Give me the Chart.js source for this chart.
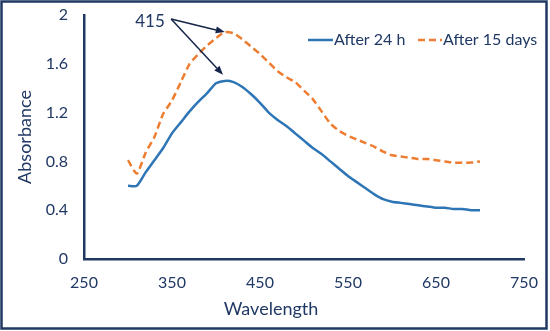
<!DOCTYPE html>
<html>
<head>
<meta charset="utf-8">
<script src="https://cdn.jsdelivr.net/npm/chart.js"></script>
<style>
  html, body { margin: 0; padding: 0; background: #fff; }
  #wrap { width: 550px; height: 331px; position: relative; }
</style>
</head>
<body>
<div id="wrap"><canvas id="absChart" width="550" height="331"></canvas></div>
<script>
const wavelengths = [300, 310, 320, 330, 340, 350, 360, 370, 380, 390,
  400, 410, 420, 430, 440, 450, 460, 470, 480, 490,
  500, 510, 520, 530, 540, 550, 560, 570, 580, 590,
  600, 610, 620, 630, 640, 650, 660, 670, 680, 690, 700];
const after24h = [0.60, 0.60, 0.71, 0.81, 0.91, 1.03, 1.12, 1.21, 1.29, 1.36,
  1.44, 1.46, 1.45, 1.41, 1.35, 1.28, 1.20, 1.14, 1.09, 1.03,
  0.97, 0.91, 0.86, 0.80, 0.74, 0.68, 0.63, 0.58, 0.53, 0.49,
  0.47, 0.46, 0.45, 0.44, 0.43, 0.42, 0.42, 0.41, 0.41, 0.40, 0.40];
const after15days = [0.81, 0.70, 0.87, 1.00, 1.19, 1.30, 1.45, 1.60, 1.68, 1.75,
  1.81, 1.86, 1.85, 1.80, 1.74, 1.68, 1.61, 1.54, 1.49, 1.45,
  1.38, 1.31, 1.21, 1.11, 1.05, 1.01, 0.98, 0.95, 0.92, 0.88,
  0.85, 0.84, 0.83, 0.82, 0.82, 0.81, 0.80, 0.79, 0.79, 0.79, 0.80];
const seriesLabels = ['After 24 h', 'After 15 days'];
const xTitle = 'Wavelength';

// peak annotation (data units)
const peakLabel = '415';
const peakText = [325, 1.95];
const arrowFrom = [349, 1.967];
const arrowTargets = [[410, 1.86], [408, 1.51]];

const NAVY = '#1f3864';
const BLUE = '#2e75b6';
const ORANGE = '#ed7d31';
const FONT = 'Lato, "Open Sans", sans-serif';

function toPoints(xs, ys) {
  return xs.map((x, i) => ({ x: x, y: ys[i] }));
}

const extras = {
  id: 'extras',
  afterDraw(chart) {
    const ctx = chart.ctx;
    const xs = chart.scales.x, ys = chart.scales.y;
    ctx.save();

    // frame
    ctx.strokeStyle = NAVY;
    ctx.lineWidth = 2.5;
    ctx.strokeRect(1.5, 1.5, 545, 327);

    // x axis title (sits left of the plot centre in the original)
    ctx.font = '18px ' + FONT;
    ctx.fillStyle = NAVY;
    ctx.textAlign = 'center';
    ctx.textBaseline = 'middle';
    ctx.fillText(xTitle, 271, 309);

    // legend
    ctx.font = '16px ' + FONT;
    ctx.lineWidth = 2.5;
    const ly = 40;
    ctx.strokeStyle = BLUE;
    ctx.beginPath(); ctx.moveTo(308, ly); ctx.lineTo(333, ly); ctx.stroke();
    ctx.textAlign = 'left';
    ctx.fillText(seriesLabels[0], 334, ly);
    ctx.strokeStyle = ORANGE;
    ctx.setLineDash([7, 4]);
    ctx.beginPath(); ctx.moveTo(418, ly); ctx.lineTo(442, ly); ctx.stroke();
    ctx.setLineDash([]);
    ctx.fillText(seriesLabels[1], 443, ly);

    // annotation
    ctx.font = '17px ' + FONT;
    ctx.textAlign = 'center';
    ctx.fillText(peakLabel, xs.getPixelForValue(peakText[0]), ys.getPixelForValue(peakText[1]));
    const fx = xs.getPixelForValue(arrowFrom[0]), fy = ys.getPixelForValue(arrowFrom[1]);
    ctx.strokeStyle = '#14244a';
    ctx.fillStyle = '#14244a';
    ctx.lineWidth = 1.5;
    arrowTargets.forEach(t => {
      const tx = xs.getPixelForValue(t[0]), ty = ys.getPixelForValue(t[1]);
      const a = Math.atan2(ty - fy, tx - fx);
      const hl = 9, hw = 3.5;
      const bx = tx - hl * Math.cos(a), by = ty - hl * Math.sin(a);
      ctx.beginPath(); ctx.moveTo(fx, fy); ctx.lineTo(bx, by); ctx.stroke();
      ctx.beginPath();
      ctx.moveTo(tx, ty);
      ctx.lineTo(bx + hw * Math.sin(a), by - hw * Math.cos(a));
      ctx.lineTo(bx - hw * Math.sin(a), by + hw * Math.cos(a));
      ctx.closePath();
      ctx.fill();
    });
    ctx.restore();
  }
};

new Chart(document.getElementById('absChart'), {
  type: 'line',
  data: {
    datasets: [{
      label: seriesLabels[0],
      data: toPoints(wavelengths, after24h),
      borderColor: BLUE,
      borderWidth: 2.5,
      pointRadius: 0,
      tension: 0.2,
      fill: false
    }, {
      label: seriesLabels[1],
      data: toPoints(wavelengths, after15days),
      borderColor: ORANGE,
      borderWidth: 2.5,
      borderDash: [7, 4],
      pointRadius: 0,
      tension: 0.2,
      fill: false
    }]
  },
  options: {
    responsive: false,
    animation: false,
    layout: { padding: { left: 0, top: 15, right: 26, bottom: 0 } },
    plugins: {
      legend: { display: false },
      tooltip: { enabled: false }
    },
    scales: {
      x: {
        type: 'linear',
        min: 250, max: 750,
        grid: { display: false, drawTicks: false },
        border: { display: true, color: NAVY, width: 2.5 },
        ticks: { stepSize: 100, color: NAVY, padding: 14, font: { size: 16, family: FONT } },
        title: { display: false },
        afterFit(scale) { scale.height = 72; scale.paddingLeft = 0; scale.paddingRight = 0; }
      },
      y: {
        min: 0, max: 2,
        grid: { display: false, drawTicks: false },
        border: { display: true, color: NAVY, width: 2.5 },
        ticks: {
          stepSize: 0.4, color: NAVY, padding: 16, font: { size: 16, family: FONT },
          callback: v => String(Math.round(v * 10) / 10)
        },
        title: { display: true, text: 'Absorbance', color: NAVY, font: { size: 18, family: FONT }, padding: { top: 14, bottom: 0 } },
        afterFit(scale) { scale.width = 84; scale.paddingTop = 0; scale.paddingBottom = 0; }
      }
    }
  },
  plugins: [extras]
});
</script>
</body>
</html>
